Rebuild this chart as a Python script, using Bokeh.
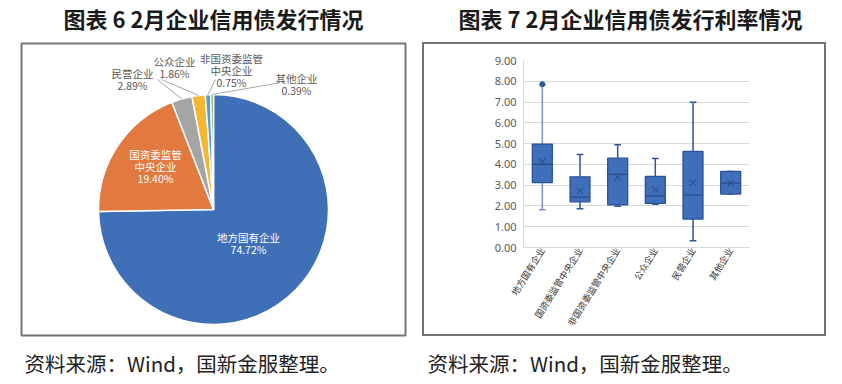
import numpy as np
from bokeh.plotting import figure
from bokeh.layouts import row, column
from bokeh.models import (ColumnDataSource, Range1d, FactorRange, FixedTicker,
                          PrintfTickFormatter, Spacer)
from bokeh.transform import dodge
from bokeh.core.properties import value
from bokeh.embed import file_html
from bokeh.resources import INLINE

# ---------------- data ----------------
title_left = "图表 6 2月企业信用债发行情况"
title_right = "图表 7 2月企业信用债发行利率情况"
source_note = "资料来源：Wind，国新金服整理。"

pie_categories = ["地方国有企业", "国资委监管中央企业", "民营企业", "公众企业",
                  "非国资委监管中央企业", "其他企业"]
pie_shares = [74.72, 19.40, 2.89, 1.86, 0.75, 0.39]
pie_colors = ["#3F70B7", "#E2793E", "#A5A5A5", "#F5B631", "#5B9BD5", "#70AD47"]

box_categories = ["地方国有企业", "国资委监管中央企业", "非国资委监管中央企业",
                  "公众企业", "民营企业", "其他企业"]
box_lower = [1.82, 1.87, 1.98, 2.08, 0.32, 2.57]
box_q1 = [3.12, 2.20, 2.05, 2.12, 1.37, 2.57]
box_median = [4.00, 2.42, 3.52, 2.48, 2.52, 3.10]
box_q3 = [4.98, 3.40, 4.30, 3.42, 4.63, 3.66]
box_upper = [7.82, 4.47, 4.94, 4.28, 6.99, 3.66]
box_mean = [4.13, 2.72, 3.38, 2.78, 3.12, 3.10]
outlier_cat = ["地方国有企业"]
outlier_val = [7.86]
y_ticks = [0, 1, 2, 3, 4, 5, 6, 7, 8, 9]

CJK = "Noto Sans CJK SC"
GRAY_TXT = "#595959"
FRAME = "#737373"
TOTAL_H = 384


def blank(width, height):
    f = figure(width=width, height=height, x_range=Range1d(0, width),
               y_range=Range1d(0, height), output_backend="svg",
               toolbar_location=None, min_border=0, x_axis_location=None,
               y_axis_location=None, frame_align=False)
    f.grid.visible = False
    f.outline_line_color = None
    return f


# ---------------- left panel (pie) ----------------
W1 = 422
p1 = blank(W1, TOTAL_H)


def py(y):
    return TOTAL_H - y


# frame
p1.quad(left=[21], right=[405], bottom=[py(335)], top=[py(43)],
        fill_color=None, line_color=FRAME, line_width=2)

cx, cy, R = 213, py(209), 115
shares = np.array(pie_shares)
frac = shares / shares.sum()
cum = np.concatenate([[0.0], np.cumsum(frac)])
start = np.pi / 2 - 2 * np.pi * cum[:-1]
end = np.pi / 2 - 2 * np.pi * cum[1:]
mid = (cum[:-1] + cum[1:]) / 2 * 2 * np.pi  # clockwise from top
psrc = ColumnDataSource(dict(start=start, end=end, color=pie_colors, name=pie_categories))
p1.wedge(x=cx, y=cy, radius=R, start_angle="start", end_angle="end", direction="clock",
         fill_color="color", line_color="white", line_width=1.5, source=psrc)


def label_lines(name, share):
    if name.endswith("中央企业") and len(name) > 6:
        lines = [name[:-4], name[-4:]]
    else:
        lines = [name]
    return lines + [f"{share:.2f}%"]


# label layout: (x, y of first line, inside?, leader start x,y) in page pixels
label_layout = {
    "地方国有企业": (248, 237, True, None),
    "国资委监管中央企业": (155, 154, True, None),
    "民营企业": (132, 73, False, (157, 79)),
    "公众企业": (174, 61, False, (161, 79)),
    "非国资委监管中央企业": (231, 58, False, (215, 79)),
    "其他企业": (296, 78, False, (275, 83)),
}
LS = 12.2
for i, (name, share) in enumerate(zip(pie_categories, pie_shares)):
    lx, ly, inside, lead = label_layout[name]
    lines = label_lines(name, share)
    xs = [lx] * len(lines)
    ys = [py(ly + k * LS) for k in range(len(lines))]
    p1.text(x=xs, y=ys, text=lines, text_align="center", text_baseline="middle",
            text_font=value(CJK), text_font_size="10.5px",
            text_color="white" if inside else GRAY_TXT)
    if lead is not None:
        ex = cx + R * np.sin(mid[i])
        ey = cy + R * np.cos(mid[i])
        p1.segment(x0=[lead[0]], y0=[py(lead[1])], x1=[ex], y1=[ey],
                   line_color="#A6A6A6", line_width=1)

p1.text(x=[213], y=[py(17)], text=[title_left], text_align="center",
        text_baseline="middle", text_font=value(CJK), text_font_size="22px",
        text_font_style="bold", text_color="#1a1a1a")
p1.text(x=[24], y=[py(362)], text=[source_note], text_align="left",
        text_baseline="middle", text_font=value(CJK), text_font_size="20.5px",
        text_color="#222222")

# ---------------- right panel (box plot) ----------------
W2 = 842 - W1          # 420
RING = 2
BOX_L, BOX_R, BOX_T, BOX_B = 422, 826, 42, 336   # outer edges of the framed area
IN_W = BOX_R - BOX_L - 2 * RING                  # 400
IN_H = BOX_B - BOX_T - 2 * RING                  # 290
TOP_H = BOX_T
BOT_H = TOTAL_H - BOX_B

t2 = blank(W2, TOP_H)
t2.text(x=[630 - W1], y=[TOP_H - 17], text=[title_right], text_align="center",
        text_baseline="middle", text_font=value(CJK), text_font_size="22px",
        text_font_style="bold", text_color="#1a1a1a")

f2 = blank(W2, BOT_H)
f2.text(x=[427 - W1], y=[TOTAL_H - 362], text=[source_note], text_align="left",
        text_baseline="middle", text_font=value(CJK), text_font_size="20.5px",
        text_color="#222222")

in_left, in_top = BOX_L + RING, BOX_T + RING
p2 = figure(width=IN_W, height=IN_H,
            x_range=FactorRange(factors=box_categories, range_padding=0),
            y_range=Range1d(0, 9), output_backend="svg", toolbar_location=None,
            min_border_left=523 - in_left, min_border_right=in_left + IN_W - 749,
            min_border_top=60 - in_top, min_border_bottom=in_top + IN_H - 247,
            frame_align=False)
p2.outline_line_color = None
p2.xgrid.grid_line_color = None
p2.ygrid.grid_line_color = "#D9D9D9"
p2.ygrid.ticker = FixedTicker(ticks=y_ticks)

p2.yaxis.ticker = FixedTicker(ticks=y_ticks)
p2.yaxis.formatter = PrintfTickFormatter(format="%.2f")
p2.yaxis.major_tick_line_color = None
p2.yaxis.minor_tick_line_color = None
p2.yaxis.major_tick_out = 0
p2.yaxis.minor_tick_out = 0
p2.yaxis.axis_line_color = "#D9D9D9"
p2.yaxis.major_label_text_font = "Noto Sans"
p2.yaxis.major_label_text_font_size = "11px"
p2.yaxis.major_label_text_color = GRAY_TXT
p2.yaxis.major_label_standoff = 7

p2.xaxis.major_label_orientation = np.radians(58)
p2.xaxis.major_tick_line_color = None
p2.xaxis.major_tick_out = 0
p2.xaxis.minor_tick_out = 0
p2.xaxis.axis_line_color = "#D9D9D9"
p2.xaxis.major_label_text_font = CJK
p2.xaxis.major_label_text_font_size = "9px"
p2.xaxis.major_label_text_color = "#333333"
p2.xaxis.major_label_standoff = 1

whisker_colors = ["#7D95C9", "#2F5597", "#2F5597", "#2F5597", "#2F5597", "#2F5597"]
bsrc = ColumnDataSource(dict(cat=box_categories, lower=box_lower, q1=box_q1,
                             median=box_median, q3=box_q3, upper=box_upper,
                             mean=box_mean, wc=whisker_colors))
p2.segment(x0="cat", y0="q3", x1="cat", y1="upper", line_color="wc", line_width=1.5, source=bsrc)
p2.segment(x0="cat", y0="lower", x1="cat", y1="q1", line_color="wc", line_width=1.5, source=bsrc)
p2.segment(x0=dodge("cat", -0.09, range=p2.x_range), y0="upper",
           x1=dodge("cat", 0.09, range=p2.x_range), y1="upper",
           line_color="wc", line_width=1.5, source=bsrc)
p2.segment(x0=dodge("cat", -0.09, range=p2.x_range), y0="lower",
           x1=dodge("cat", 0.09, range=p2.x_range), y1="lower",
           line_color="wc", line_width=1.5, source=bsrc)
p2.vbar(x="cat", bottom="q1", top="q3", width=0.53, fill_color="#3F6EBB",
        line_color="#2A5395", line_width=1.3, source=bsrc)
p2.segment(x0=dodge("cat", -0.265, range=p2.x_range), y0="median",
           x1=dodge("cat", 0.265, range=p2.x_range), y1="median",
           line_color="#2A4C8A", line_width=1.2, source=bsrc)
p2.scatter(x="cat", y="mean", marker="x", size=9, line_color="#2A4C8A",
           line_alpha=0.8, line_width=1.2, source=bsrc)
p2.scatter(x=outlier_cat, y=outlier_val, marker="circle", size=5,
           fill_color="#2F5597", line_color="#2F5597")


def bar(w, h):
    return Spacer(width=w, height=h, styles={"background-color": FRAME})


framed = column(
    bar(IN_W + 2 * RING, RING),
    row(bar(RING, IN_H), p2, bar(RING, IN_H), spacing=0),
    bar(IN_W + 2 * RING, RING),
    spacing=0)

right = column(t2, framed, f2, spacing=0)
layout = row(p1, right, spacing=0)
open("out.html", "w").write(file_html(layout, INLINE))
